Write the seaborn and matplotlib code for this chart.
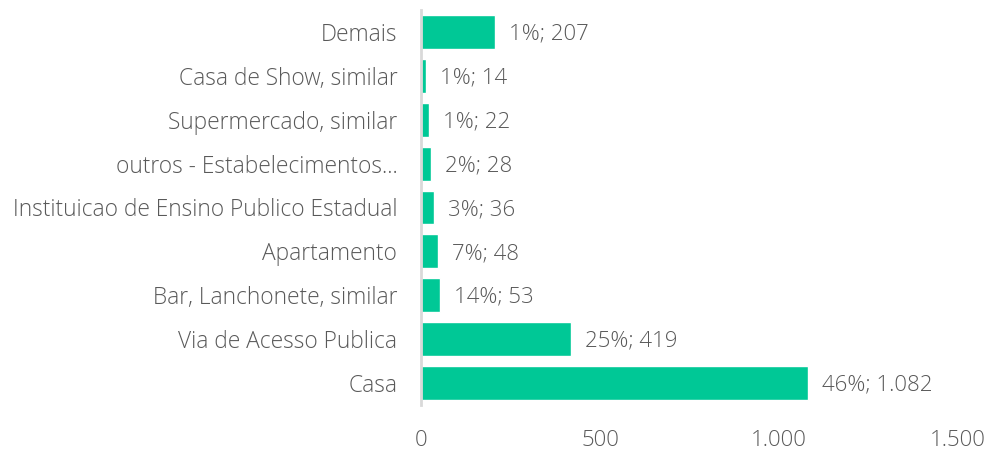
import matplotlib
matplotlib.use("Agg")
import matplotlib.pyplot as plt
import seaborn as sns
import pandas as pd

categories = ["Demais", "Casa de Show, similar", "Supermercado, similar",
              "outros - Estabelecimentos...", "Instituicao de Ensino Publico Estadual",
              "Apartamento", "Bar, Lanchonete, similar", "Via de Acesso Publica", "Casa"]
values = [207, 14, 22, 28, 36, 48, 53, 419, 1082]
percents = [1, 1, 1, 2, 3, 7, 14, 25, 46]
xticks = [0, 500, 1000, 1500]
xtick_labels = ["0", "500", "1.000", "1.500"]

sns.set_theme(style="white")
plt.rcParams['font.family'] = ['Open Sans', 'DejaVu Sans']
plt.rcParams['font.weight'] = 'light'

df = pd.DataFrame({"cat": categories, "val": values})

fig = plt.figure(figsize=(9.87, 4.5), dpi=100)
ax = fig.add_axes([0.4265, 0.10, 0.9706 - 0.4265, 0.8778])
sns.barplot(data=df, y="cat", x="val", orient="h", color="#00C896",
            saturation=1, width=0.77, ax=ax)

ax.set_xlim(0, 1500)
ax.set_ylim(8.5, -0.5)
ax.set_xticks(xticks)
ax.set_xticklabels(xtick_labels)
ax.set_xlabel("")
ax.set_ylabel("")
for s in ["top", "right", "bottom"]:
    ax.spines[s].set_visible(False)
ax.spines["left"].set_color("#d9d9d9")
ax.spines["left"].set_linewidth(2)
ax.tick_params(axis="both", length=0, labelsize=16, colors="#595959")
ax.tick_params(axis="y", pad=17, labelsize=16.4)
ax.tick_params(axis="x", pad=18)

for i, (v, p) in enumerate(zip(values, percents)):
    lab = f"{p}%; {v:,}".replace(",", ".")
    ax.annotate(lab, xy=(v, i), xytext=(10, -1.5), textcoords="offset points",
                va="center", ha="left", fontsize=16, color="#595959",
                fontweight="light")

fig.savefig("out.png", dpi=100)
